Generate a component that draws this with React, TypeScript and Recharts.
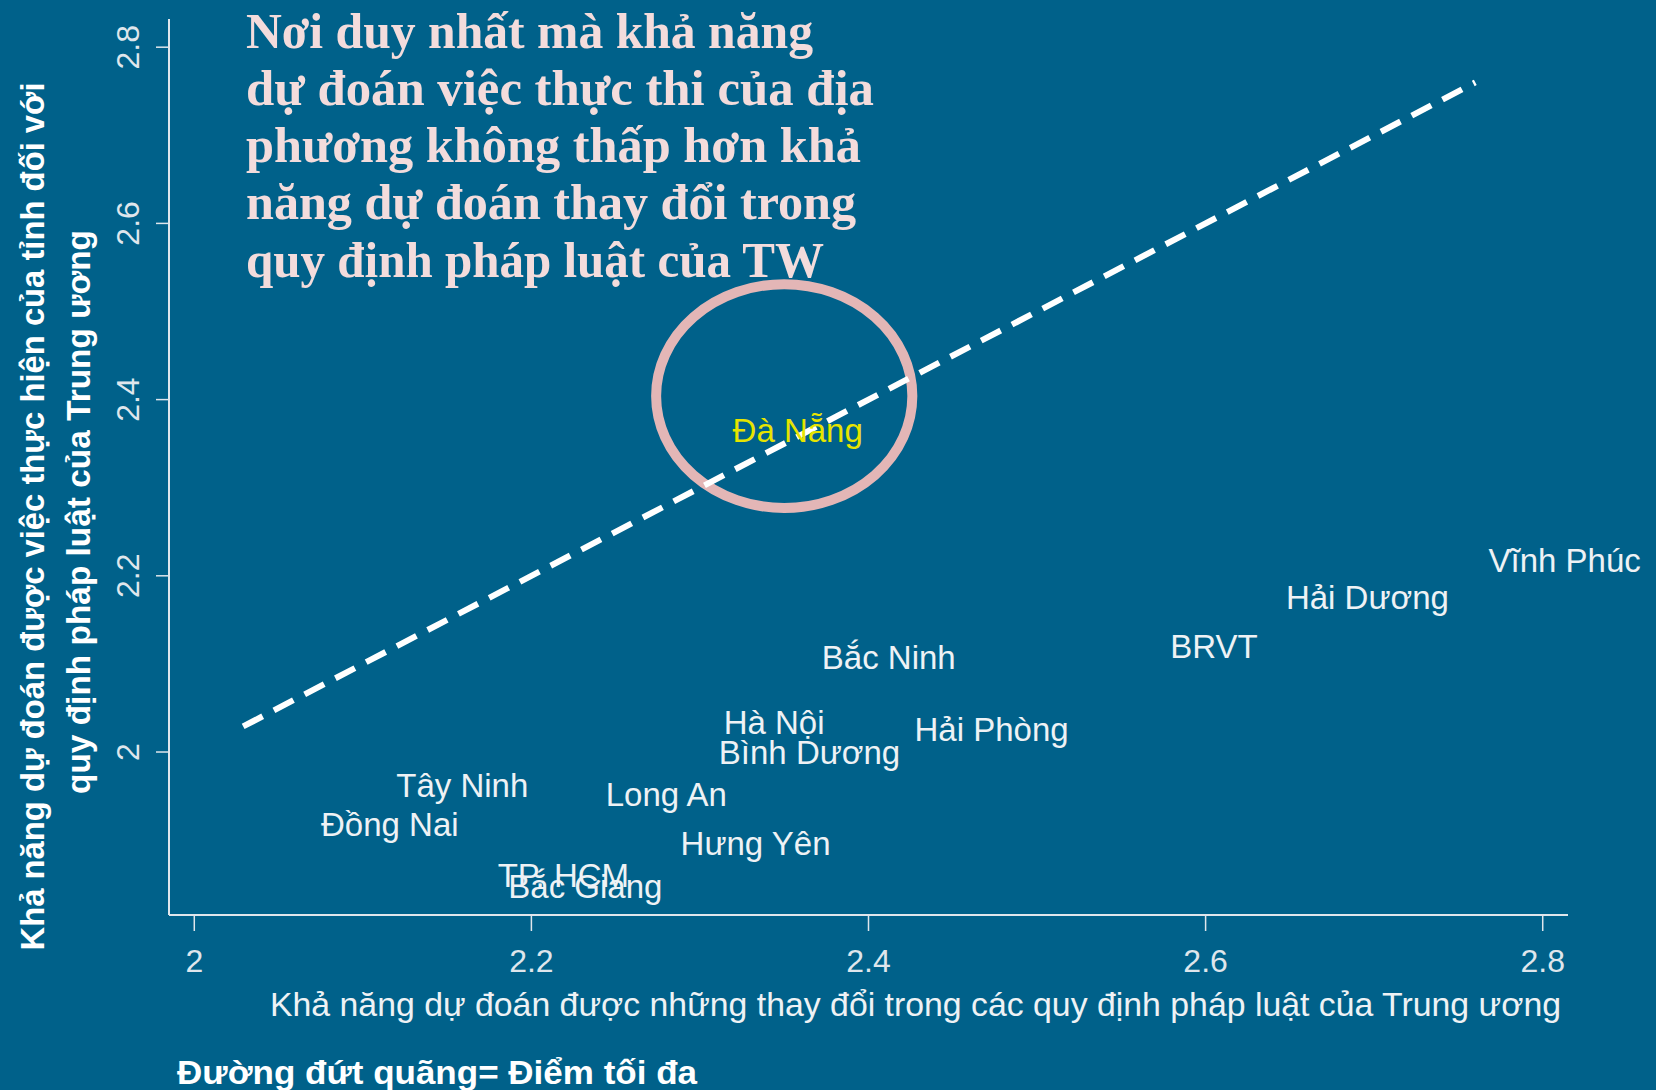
import { useEffect } from 'react';
import { ScatterChart, Scatter, XAxis, YAxis, ReferenceLine, ReferenceArea } from 'recharts';

const provinces = ['Vĩnh Phúc', 'Hải Dương', 'BRVT', 'Bắc Ninh', 'Hải Phòng', 'Hà Nội', 'Bình Dương', 'Đà Nẵng', 'Tây Ninh', 'Đồng Nai', 'Long An', 'Hưng Yên', 'TP. HCM', 'Bắc Giang'];
const centralScore = [2.813, 2.696, 2.605, 2.412, 2.473, 2.344, 2.365, 2.358, 2.159, 2.116, 2.28, 2.333, 2.219, 2.232];
const localScore = [2.217, 2.175, 2.12, 2.107, 2.026, 2.034, 1.999, 2.365, 1.962, 1.918, 1.952, 1.896, 1.86, 1.847];
const highlight = 'Đà Nẵng';

const xTicks = [2, 2.2, 2.4, 2.6, 2.8];
const yTicks = [2, 2.2, 2.4, 2.6, 2.8];
const diagonal = [2.029, 2.76];
const circleX = [2.274, 2.426];
const circleY = [2.277, 2.531];

const titleLines = [
  'Nơi duy nhất mà khả năng',
  'dự đoán việc thực thi của địa',
  'phương không thấp hơn khả',
  'năng dự đoán thay đổi trong',
  'quy định pháp luật của TW',
];
const titleWidths = [567, 628, 615, 610, 578];

const BG = '#00618a';
const AXIS = '#dfe6ec';
const sans = '"Liberation Sans", Arial, sans-serif';

const points = provinces.map((name, i) => ({ name, x: centralScore[i], y: localScore[i] }));

function XTick(props: any) {
  const { x, y, payload } = props;
  return (
    <text x={x} y={y + 41} textAnchor="middle" fill={AXIS} fontSize={32} fontFamily={sans} fontWeight={300}>
      {payload.value}
    </text>
  );
}

function YTick(props: any) {
  const { x, y, payload } = props;
  const bx = x - 17;
  return (
    <text x={bx} y={y} transform={`rotate(-90, ${bx}, ${y})`} textAnchor="middle" fill={AXIS} fontSize={32} fontFamily={sans} fontWeight={300}>
      {payload.value}
    </text>
  );
}

function LabelShape(props: any) {
  const { cx, cy, payload } = props;
  const hot = payload.name === highlight;
  return (
    <text x={cx} y={cy} textAnchor="middle" dominantBaseline="central" fill={hot ? '#e6e400' : '#eef2f5'} fontSize={33} fontFamily={sans} fontWeight={300}>
      {payload.name}
    </text>
  );
}

function EllipseShape(props: any) {
  const { x, y, width, height } = props;
  return (
    <ellipse cx={x + width / 2} cy={y + height / 2} rx={width / 2} ry={height / 2} fill="none" stroke="#e3b6b6" strokeWidth={10} />
  );
}

export default function App() {
  useEffect(() => {
    document.body.style.margin = '0';
    document.body.style.background = BG;
  }, []);

  return (
    <div style={{ position: 'fixed', left: 0, top: 0, width: 1656, height: 1090, background: BG, overflow: 'hidden' }}>
      <ScatterChart width={1656} height={1090} margin={{ top: 19, right: 88, left: 0, bottom: 0 }}>
        <XAxis
          type="number"
          dataKey="x"
          domain={[1.985, 2.815]}
          ticks={xTicks}
          height={175}
          tickSize={16}
          tickMargin={0}
          axisLine={{ stroke: AXIS, strokeWidth: 2 }}
          tickLine={{ stroke: AXIS, strokeWidth: 1.5 }}
          tick={<XTick />}
        />
        <YAxis
          type="number"
          dataKey="y"
          domain={[1.815, 2.832]}
          ticks={yTicks}
          width={169}
          tickSize={13}
          tickMargin={0}
          axisLine={{ stroke: AXIS, strokeWidth: 2 }}
          tickLine={{ stroke: AXIS, strokeWidth: 1.5 }}
          tick={<YTick />}
        />
        <ReferenceArea x1={circleX[0]} x2={circleX[1]} y1={circleY[0]} y2={circleY[1]} shape={<EllipseShape />} />
        <ReferenceLine
          segment={[{ x: diagonal[0], y: diagonal[0] }, { x: diagonal[1], y: diagonal[1] }]}
          stroke="#ffffff"
          strokeWidth={6}
          strokeDasharray="22 12.7"
        />
        <Scatter data={points} shape={<LabelShape />} isAnimationActive={false} />
      </ScatterChart>

      <svg width={1656} height={1090} style={{ position: 'absolute', left: 0, top: 0, pointerEvents: 'none' }}>
        {titleLines.map((line, i) => (
          <text
            key={i}
            x={246}
            y={47.5 + i * 57.3}
            fill="#f3dcdc"
            fontSize={50}
            fontWeight={700}
            fontFamily='"Liberation Serif", "DejaVu Serif", serif'
            textLength={titleWidths[i]}
            lengthAdjust="spacingAndGlyphs"
          >
            {line}
          </text>
        ))}

        <g fontFamily='"Liberation Sans Narrow", "Liberation Sans", Arial, sans-serif' fontWeight={700} fill="#ffffff" fontSize={34}>
          <text x={44} y={516.5} transform="rotate(-90, 44, 516.5)" textAnchor="middle" textLength={868} lengthAdjust="spacingAndGlyphs">
            Khả năng dự đoán được việc thực hiện của tỉnh đối với
          </text>
          <text x={90} y={512} transform="rotate(-90, 90, 512)" textAnchor="middle" textLength={564} lengthAdjust="spacingAndGlyphs">
            quy định pháp luật của Trung ương
          </text>
          <text x={177} y={1084} textLength={520} lengthAdjust="spacingAndGlyphs">
            Đường đứt quãng= Điểm tối đa
          </text>
        </g>

        <text x={270} y={1016} fill="#eef2f5" fontSize={34} fontFamily={sans} fontWeight={300} textLength={1291} lengthAdjust="spacingAndGlyphs">
          Khả năng dự đoán được những thay đổi trong các quy định pháp luật của Trung ương
        </text>
      </svg>
    </div>
  );
}
